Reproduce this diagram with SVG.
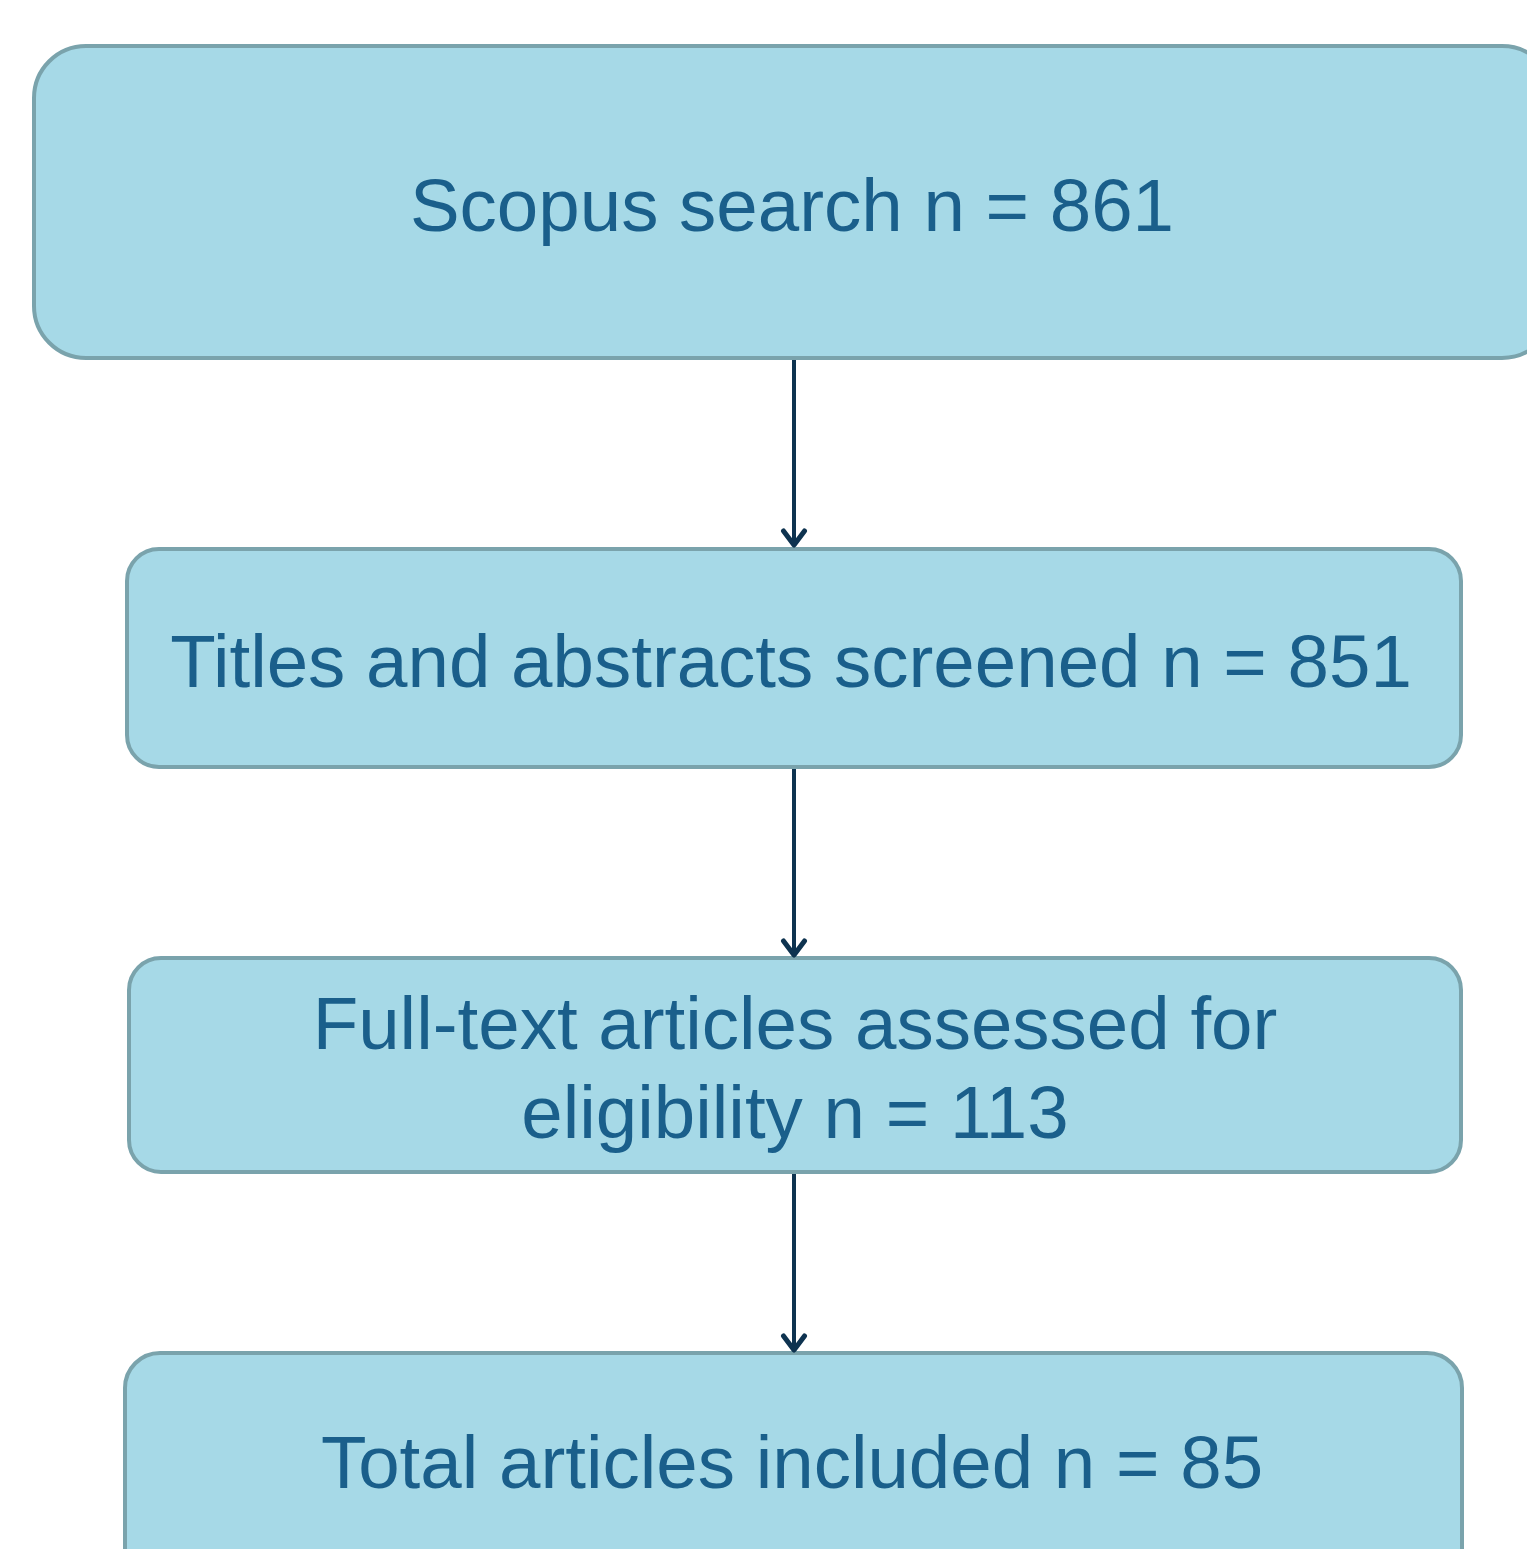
<svg xmlns="http://www.w3.org/2000/svg" width="1527" height="1549" viewBox="0 0 1527 1549">
<defs>
<style>
.box{fill:#a6d9e7;stroke:#7aa3ac;stroke-width:4}
.lbl{font-family:"Liberation Sans",Arial,sans-serif;font-size:74.5px;fill:#1a5f8b;text-anchor:middle}
.conn{stroke:#0e3350;stroke-width:4;fill:none}
</style>
<marker id="arr" viewBox="0 0 20 26" refX="17" refY="13" markerWidth="20" markerHeight="26" markerUnits="userSpaceOnUse" orient="auto" overflow="visible">
<path d="M3 2.5 L17 13 L3 23.5" fill="none" stroke="#0e3350" stroke-width="5" stroke-linecap="round" stroke-linejoin="round"/>
</marker>
</defs>
<rect width="1527" height="1549" fill="#ffffff"/>
<g id="node-scopus">
<rect class="box" x="34" y="46" width="1520" height="312" rx="52" ry="52"/>
<text class="lbl" x="792" y="231">Scopus search n = 861</text>
</g>
<g id="node-screened">
<rect class="box" x="127" y="549" width="1334" height="218" rx="32" ry="32"/>
<text class="lbl" x="791" y="687">Titles and abstracts screened n = 851</text>
</g>
<g id="node-fulltext">
<rect class="box" x="129" y="958" width="1332" height="214" rx="32" ry="32"/>
<text class="lbl" x="795" y="1049">Full-text articles assessed for</text>
<text class="lbl" x="795" y="1138">eligibility n = 113</text>
</g>
<g id="node-included">
<rect class="box" x="125" y="1353" width="1337" height="230" rx="35" ry="35"/>
<text class="lbl" x="792" y="1488">Total articles included n = 85</text>
</g>
<g id="connectors">
<path class="conn" d="M794 360 V545" marker-end="url(#arr)"/>
<path class="conn" d="M794 769 V955" marker-end="url(#arr)"/>
<path class="conn" d="M794 1174 V1350" marker-end="url(#arr)"/>
</g>
</svg>
